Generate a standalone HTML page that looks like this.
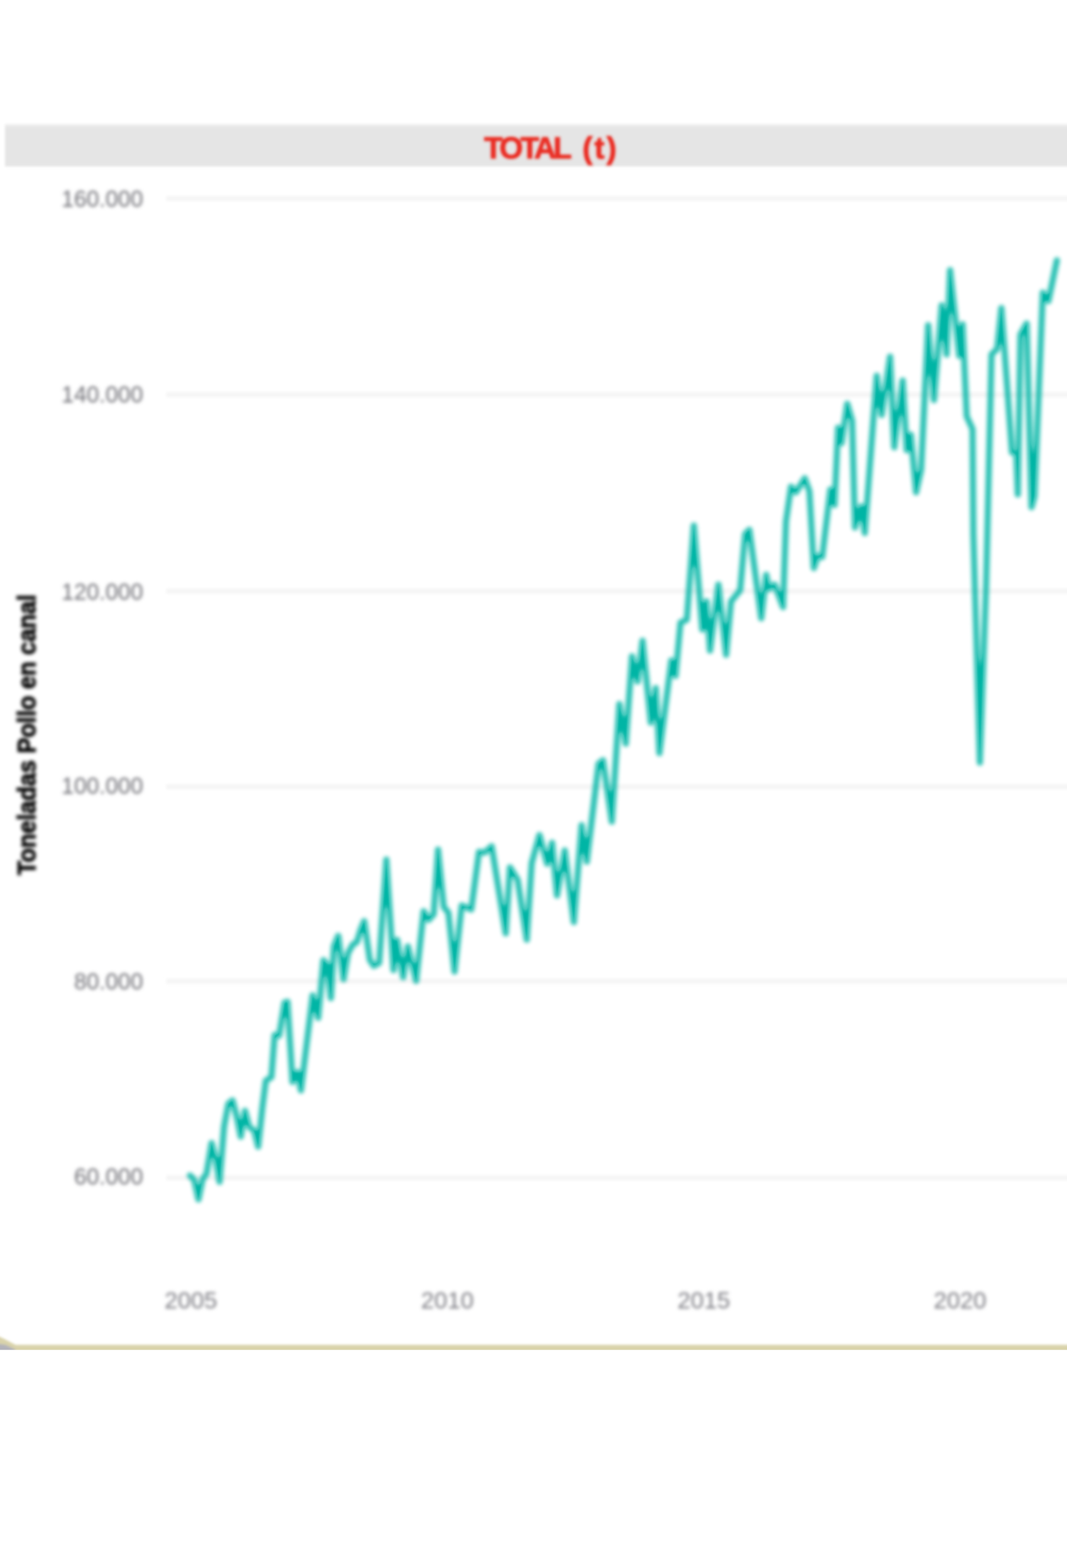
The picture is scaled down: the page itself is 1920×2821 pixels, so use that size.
<!DOCTYPE html>
<html lang="es">
<head>
<meta charset="utf-8">
<title>TOTAL (t) - Toneladas Pollo en canal</title>
<style>
  html, body { margin: 0; padding: 0; background: #ffffff; }
  body { width: 1920px; height: 2821px; overflow: hidden; font-family: "Liberation Sans", sans-serif; }
  svg { display: block; position: absolute; left: 0; top: 0; }
  text { font-family: "Liberation Sans", sans-serif; }
  .ylabels text { font-size: 42px; fill: #707076; }
  .xlabels text { font-size: 42px; fill: #7c7c82; }
  .title { font-weight: bold; font-size: 55px; fill: #ea2a20; stroke: #ea2a20; stroke-width: 1.2px; }
  .ytitle { font-weight: bold; font-size: 46px; fill: #000000; stroke: #000000; stroke-width: 1.2px; }
  .grid rect { fill: #f5f5f5; }
</style>
</head>
<body>
<svg width="1920" height="2821" viewBox="0 0 1920 2821">
  <defs>
    <filter id="bline" x="-5%" y="-5%" width="110%" height="110%" color-interpolation-filters="sRGB">
      <feGaussianBlur stdDeviation="3.5"/>
      <feComponentTransfer><feFuncA type="table" tableValues="0 .083 .167 .25 .333 .417 .5 .583 .667 .75 1"/></feComponentTransfer>
    </filter>
    <filter id="bbox" x="-5%" y="-20%" width="110%" height="140%"><feGaussianBlur stdDeviation="2"/></filter>
    <filter id="bgrid" x="-5%" y="-5%" width="110%" height="110%"><feGaussianBlur stdDeviation="2.6"/></filter>
    <filter id="btext" x="-20%" y="-20%" width="140%" height="140%"><feGaussianBlur stdDeviation="3"/></filter>
    <filter id="btitle" x="-20%" y="-20%" width="140%" height="140%"><feGaussianBlur stdDeviation="2.6"/></filter>
    <filter id="bytitle" x="-20%" y="-20%" width="140%" height="140%"><feGaussianBlur stdDeviation="3.2"/></filter>
  </defs>
  <rect x="0" y="0" width="1920" height="2821" fill="#ffffff"/>

  <!-- title band -->
  <g filter="url(#bbox)">
    <rect x="9" y="223" width="1940" height="8" fill="#eeeeee"/>
    <rect x="9" y="227.5" width="1940" height="72" fill="#e5e5e5"/>
  </g>

  <!-- horizontal grid lines -->
  <g class="grid" filter="url(#bgrid)">
    <rect x="299" y="352.5" width="1650" height="9"/>
    <rect x="299" y="705.5" width="1650" height="9"/>
    <rect x="299" y="1059.0" width="1650" height="9"/>
    <rect x="299" y="1411.0" width="1650" height="9"/>
    <rect x="299" y="1760.8" width="1650" height="9"/>
    <rect x="299" y="2114.5" width="1650" height="9"/>
  </g>

  <!-- bottom rule with rounded corner -->
  <g filter="url(#bbox)">
    <path d="M-8 2402 L6 2408 L28 2419.5 L1940 2419.5 L1940 2436 L-8 2436 Z" fill="#d9d3aa"/>
    <path d="M-8 2417 L10 2419.5 L26 2427 L30 2436 L-8 2436 Z" fill="#b2b2ba"/>
  </g>
  <rect x="0" y="2428.6" width="1920" height="14" fill="#ffffff"/>

  <!-- axis labels -->
  <g class="ylabels" filter="url(#btext)">
    <text x="257.6" y="372.3" text-anchor="end" textLength="147" lengthAdjust="spacingAndGlyphs">160.000</text>
    <text x="257.6" y="724.1" text-anchor="end" textLength="147" lengthAdjust="spacingAndGlyphs">140.000</text>
    <text x="257.6" y="1078.6" text-anchor="end" textLength="147" lengthAdjust="spacingAndGlyphs">120.000</text>
    <text x="257.6" y="1427.6" text-anchor="end" textLength="147" lengthAdjust="spacingAndGlyphs">100.000</text>
    <text x="257.6" y="1780.3" text-anchor="end" textLength="124.4" lengthAdjust="spacingAndGlyphs">80.000</text>
    <text x="257.6" y="2130.6" text-anchor="end" textLength="124.4" lengthAdjust="spacingAndGlyphs">60.000</text>
  </g>
  <g class="xlabels" filter="url(#btext)">
    <text x="343.5" y="2354.3" text-anchor="middle" textLength="95" lengthAdjust="spacingAndGlyphs">2005</text>
    <text x="805" y="2354.3" text-anchor="middle" textLength="95" lengthAdjust="spacingAndGlyphs">2010</text>
    <text x="1266.5" y="2354.3" text-anchor="middle" textLength="95" lengthAdjust="spacingAndGlyphs">2015</text>
    <text x="1727.5" y="2354.3" text-anchor="middle" textLength="95" lengthAdjust="spacingAndGlyphs">2020</text>
  </g>

  <text class="title" filter="url(#btitle)" x="871" y="284.6"><tspan letter-spacing="-5">TOTAL</tspan><tspan dx="5" letter-spacing="3.4"> (t)</tspan></text>
  <text class="ytitle" filter="url(#bytitle)" transform="translate(64 1322) rotate(-90)" text-anchor="middle" textLength="505" lengthAdjust="spacingAndGlyphs">Toneladas Pollo en canal</text>

  <!-- data series -->
  <path filter="url(#bline)" fill="none" stroke="#00b5a5" stroke-width="11" stroke-linejoin="round" stroke-linecap="round"
    d="M341.7 2114.8 L349.3 2122.4 L357.1 2157.8 L364.5 2121.6 L371.6 2111.7 L380.7 2056.4 L387.7 2083.2 L395.1 2126.2 L403.2 2026.8 L410.9 1985.8
      L418.3 1979.7 L426.2 2009.9 L433.2 2044.8 L440.8 1998.5 L448.7 2027.6 L457.3 2033.9 L464.6 2063.0 L472.2 1992.2 L478.3 1944.1 L488.4 1937.8
      L494.2 1861.9 L502.3 1863.2 L512.1 1803.7 L517.4 1802.2 L526.3 1946.6 L535.1 1929.0 L541.5 1961.8 L562.5 1790.8 L572.6 1831.2 L582.0 1727.6
      L588.3 1735.1 L595.4 1795.8 L600.9 1702.3 L608.7 1683.7 L618.1 1761.7 L626.2 1714.9 L634.6 1699.7 L642.2 1694.7 L649.2 1671.9 L655.4 1657.2
      L665.5 1727.2 L672.6 1737.6 L682.3 1732.4 L695.2 1546.5 L708.1 1745.3 L714.6 1691.1 L725.5 1758.2 L733.9 1702.7 L748.8 1764.7 L762.3 1639.4
      L771.4 1654.9 L780.4 1644.6 L788.2 1528.4 L798.5 1631.7 L806.9 1642.0 L817.9 1747.9 L830.8 1629.1 L843.7 1634.3 L848.0 1636.3 L861.9 1532.6
      L872.1 1533.9 L884.7 1522.5 L910.0 1679.3 L917.6 1560.4 L931.5 1583.2 L947.9 1690.6 L956.8 1552.8 L970.7 1502.3 L984.6 1554.1 L993.4 1516.2
      L1002.3 1611.0 L1016.2 1530.1 L1032.6 1659.0 L1046.5 1484.6 L1055.9 1550.3 L1077.1 1374.0 L1085.0 1367.7 L1100.9 1478.3 L1114.5 1266.6 L1126.0 1338.0
      L1137.2 1180.7 L1147.3 1226.2 L1156.2 1152.8 L1171.0 1300.0 L1180.0 1238.0 L1186.5 1355.0 L1208.0 1188.2 L1215.6 1216.1 L1224.5 1120.0 L1235.8 1114.9
      L1248.5 945.5 L1263.7 1132.6 L1271.2 1082.0 L1277.6 1170.5 L1292.7 1051.7 L1306.6 1178.1 L1315.5 1082.0 L1331.9 1061.8 L1340.8 960.7 L1348.4 953.1
      L1369.8 1112.4 L1378.7 1034.0 L1383.8 1059.3 L1393.9 1051.7 L1409.0 1092.2 L1414.3 938.0 L1423.3 875.6 L1432.2 885.7 L1448.1 860.4 L1456.5 884.0
      L1464.4 1022.0 L1472.0 1000.0 L1479.5 1002.0 L1494.1 880.7 L1501.7 908.5 L1508.0 769.4 L1514.3 797.2 L1524.5 726.4 L1533.3 756.8 L1538.4 948.9
      L1549.7 911.0 L1556.1 959.0 L1577.6 675.9 L1586.4 746.6 L1601.6 641.7 L1609.2 804.8 L1624.3 684.7 L1631.5 810.0 L1639.0 782.0 L1648.4 885.7
      L1657.5 845.0 L1670.1 585.0 L1680.6 719.8 L1694.5 549.2 L1703.3 637.7 L1709.6 486.0 L1726.1 640.2 L1732.0 583.5 L1739.5 749.0 L1750.0 772.0
      L1751.5 960.0 L1763.2 1372.0 L1774.5 1050.0 L1784.2 637.7 L1794.3 627.6 L1801.9 554.2 L1821.0 813.8 L1828.6 815.7 L1831.5 889.6 L1836.1 602.3
      L1847.4 582.0 L1856.1 912.4 L1861.5 893.0 L1876.5 526.4 L1886.6 541.6 L1901.8 468.3"/>
</svg>
</body>
</html>
